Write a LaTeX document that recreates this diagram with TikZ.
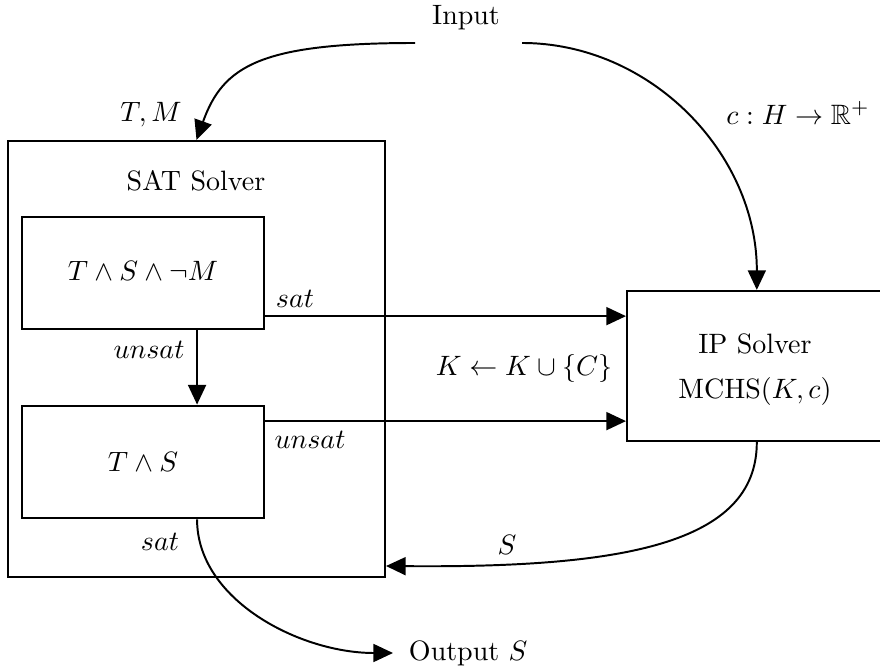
\documentclass[tikz,border=0pt]{standalone}
\usepackage{amssymb}
\usetikzlibrary{arrows.meta}
\begin{document}
\begin{tikzpicture}[x=0.357pt,y=-0.357pt,
  box/.style={draw,line width=0.7pt,rectangle,inner sep=0pt},
  arr/.style={line width=0.7pt,-{Triangle[length=7pt,width=6.4pt]}},
  lbl/.style={inner sep=0pt}]
\useasboundingbox (0,0) rectangle (880,670);
% boxes
\node[box,minimum width=134.6pt,minimum height=155.7pt] (sat) at (196.5,359) {};
\node[box,minimum width=86.4pt,minimum height=40.3pt] (b1) at (143,273) {};
\node[box,minimum width=86.4pt,minimum height=40.3pt] (b2) at (143,462) {};
\node[box,minimum width=90.7pt,minimum height=53.6pt] (ip) at (754,366) {};
% texts
\node[lbl] (sattxt) at (196,181) {SAT Solver};
\node[lbl] (b1txt) at (143,271) {$T\wedge S\wedge\neg M$};
\node[lbl] (b2txt) at (143,462) {$T\wedge S$};
\node[lbl,align=center] (iptxt) at (755,370) {IP Solver\\[4pt]MCHS$(K,c)$};
\node[lbl] (input) at (466,18) {Input};
\node[inner sep=5.5pt,anchor=west] (output) at (393,653) {Output $S$};
% labels
\node[lbl] (ltm) at (151,115) {$T,M$};
\node[lbl] (lc) at (798,113) {$c:H\rightarrow\mathbb{R}^+$};
\node[lbl] (lsat1) at (295,299) {$sat$};
\node[lbl] (lunsat1) at (149,350) {$unsat$};
\node[lbl] (lk) at (524,368) {$K\leftarrow K\cup\{C\}$};
\node[lbl] (lunsat2) at (310,440) {$unsat$};
\node[lbl] (lsat2) at (160,542) {$sat$};
\node[lbl] (ls) at (507,545) {$S$};
% connector anchors
\coordinate (inL) at (415,43);
\coordinate (inR) at (522,43);
\path ([yshift=-15.4pt]b1.east) coordinate (s1);
\path ([yshift=14.6pt]b2.east) coordinate (s2);
\path ([xshift=19.3pt]b1.south) coordinate (v1);
\path ([xshift=19.3pt]b2.north) coordinate (v2);
\path ([xshift=19.3pt]b2.south) coordinate (o1);
\path ([yshift=4.3pt]sat.south east) coordinate (sin);
\path ([xshift=1pt]ip.north) coordinate (ipn);
\path ([xshift=1pt]ip.south) coordinate (ips);
% connectors
\draw[arr] (inL) .. controls (260,43) and (223,66) .. (sat.north);
\draw[arr] (inR) .. controls (651,43) and (757,154) .. (ipn);
\draw[arr] (s1) -- (s1 -| ip.west);
\draw[arr] (s2) -- (s2 -| ip.west);
\draw[arr] (v1) -- (v2);
\draw[arr] (ips) .. controls (757,545) and (620,568) .. (sin);
\draw[arr] (o1) .. controls (197,600) and (300,653) .. (output.west);
\end{tikzpicture}
\end{document}
